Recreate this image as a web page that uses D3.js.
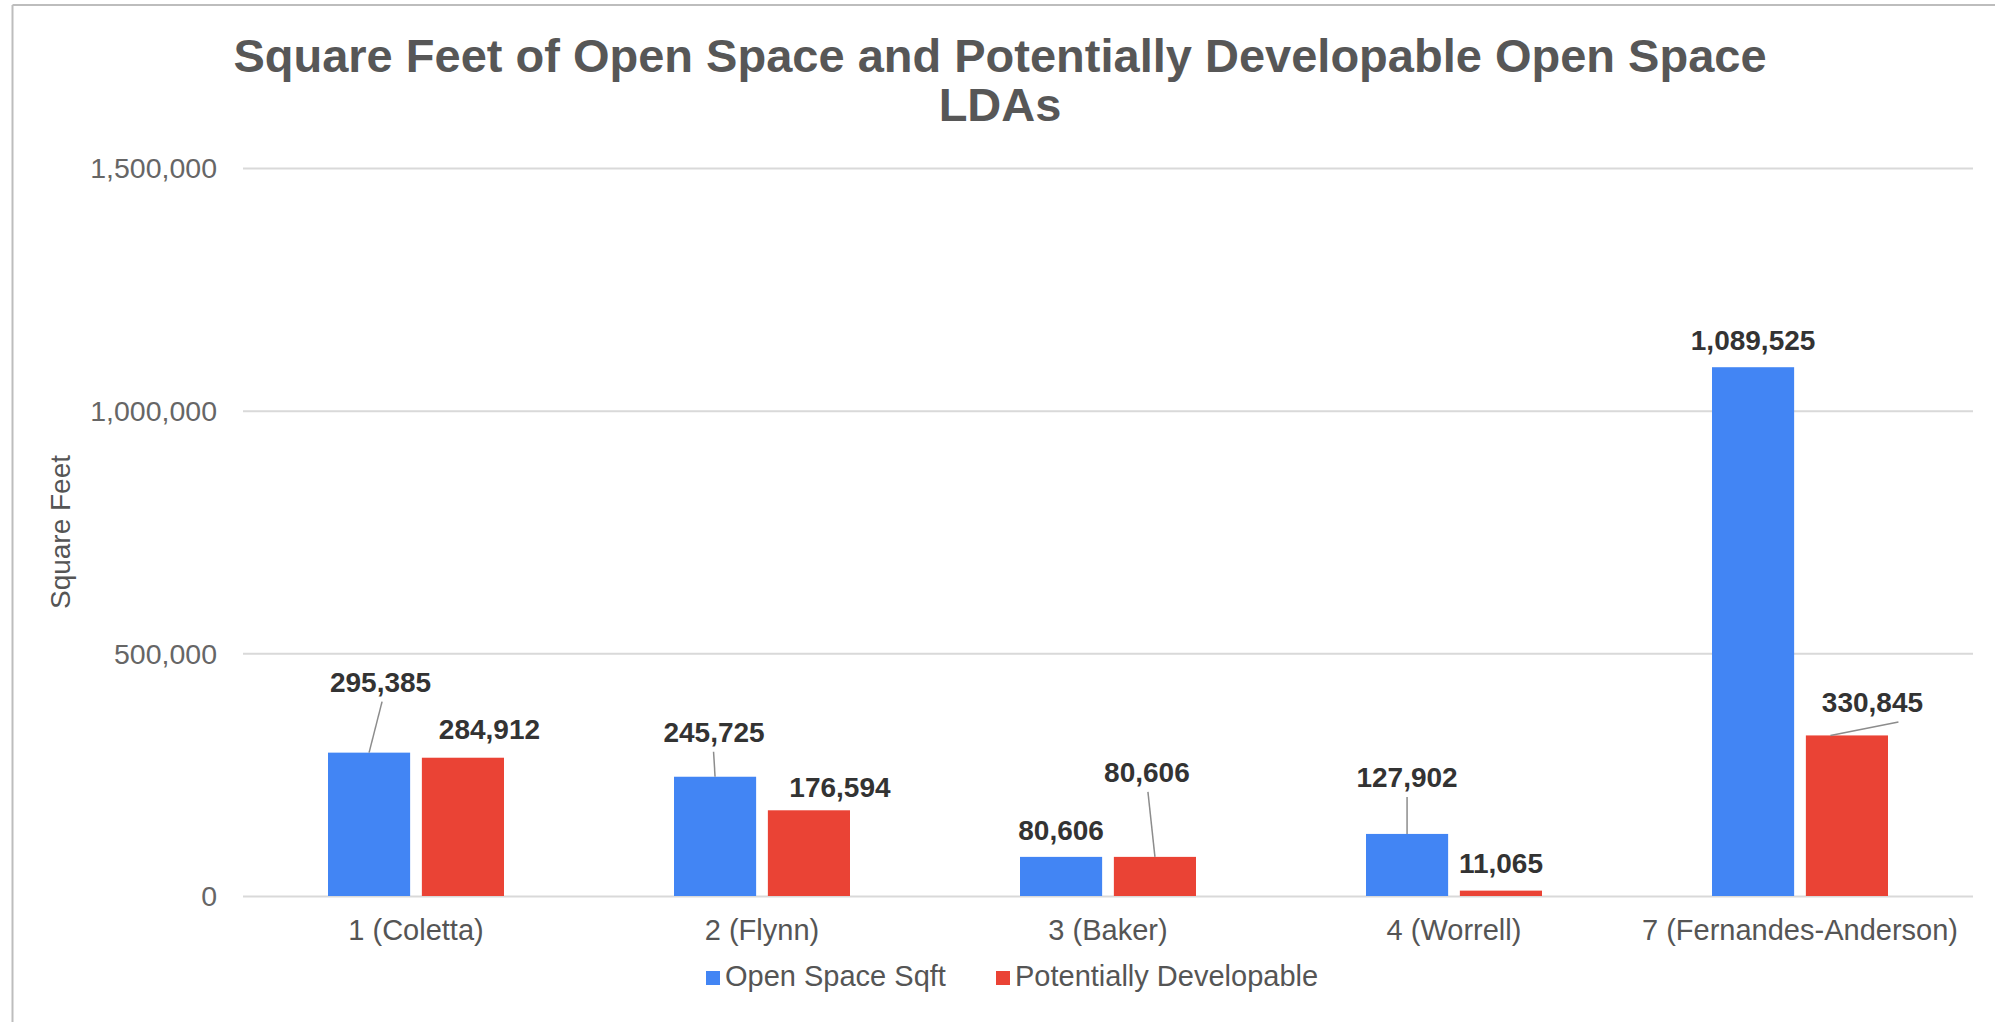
<!DOCTYPE html>
<html>
<head>
<meta charset="utf-8">
<script src="https://cdn.jsdelivr.net/npm/d3@7"></script>
<style>
  html, body { margin: 0; padding: 0; background: #fff; }
  svg { display: block; font-family: "Liberation Sans", Arial, Helvetica, sans-serif; }
</style>
</head>
<body>
<svg id="chart" width="1995" height="1022"></svg>
<script>
// ---- data ----
const categories = ["1 (Coletta)", "2 (Flynn)", "3 (Baker)", "4 (Worrell)", "7 (Fernandes-Anderson)"];
const seriesNames = ["Open Space Sqft", "Potentially Developable"];
const openSpace = [295385, 245725, 80606, 127902, 1089525];
const developable = [284912, 176594, 80606, 11065, 330845];
const yTicks = [0, 500000, 1000000, 1500000];
const titleLines = ["Square Feet of Open Space and Potentially Developable Open Space", "LDAs"];

// ---- layout ----
const W = 1995, H = 1022;
const plot = { left: 243, right: 1973, top: 168, bottom: 896 };
const colors = ["#4285F4", "#EA4335"];

// per-label nudges (dx, dy relative to the bar's top centre) and optional leader line
// leader = [offset along bar top, offset along label bottom]
const labelLayout = [
  [ { dx: 11.5, dy: -61, leader: [0, 1.5] }, { dx: 26.5, dy: -19, leader: null } ],
  [ { dx: -1, dy: -35, leader: [0, -0.5] }, { dx: 31, dy: -13.5, leader: null } ],
  [ { dx: 0, dy: -17, leader: null }, { dx: -8, dy: -75, leader: [0, 1] } ],
  [ { dx: 0, dy: -47, leader: [0, 0] }, { dx: 0, dy: -17.5, leader: null } ],
  [ { dx: 0, dy: -17, leader: null }, { dx: 25.5, dy: -23.5, leader: [-16.5, 26] } ]
];

const svg = d3.select("#chart");
svg.append("rect").attr("width", W).attr("height", H).attr("fill", "#fff");

// chart frame edges
svg.append("line").attr("x1", 12.5).attr("x2", 12.5).attr("y1", 5).attr("y2", H)
  .attr("stroke", "#bdbdbd").attr("stroke-width", 2);
svg.append("line").attr("x1", 12.5).attr("x2", W).attr("y1", 5).attr("y2", 5)
  .attr("stroke", "#bdbdbd").attr("stroke-width", 2);

// title
const title = svg.append("text")
  .attr("text-anchor", "middle")
  .attr("font-size", 47).attr("font-weight", "bold").attr("fill", "#575757");
titleLines.forEach((t, i) => {
  title.append("tspan").attr("x", 1000).attr("y", 72 + i * 49).text(t);
});

// scales
const x0 = d3.scaleBand().domain(categories).range([plot.left, plot.right]).paddingInner(0).paddingOuter(0);
const x1 = d3.scaleBand().domain(seriesNames).range([0, 176]).paddingInner(22 / 176 * 1.0).paddingOuter(0);
const y = d3.scaleLinear().domain([0, 1500000]).range([plot.bottom, plot.top]);
const groupOffset = (x0.bandwidth() - 176) / 2;

// gridlines + y tick labels
const yAxis = d3.axisLeft(y).tickValues(yTicks).tickFormat(d3.format(",")).tickSize(0).tickPadding(0);
const yg = svg.append("g").attr("transform", `translate(${plot.left},0)`).call(yAxis);
yg.select(".domain").remove();
yg.selectAll(".tick text")
  .attr("x", 217 - plot.left).attr("dy", "0.35em")
  .attr("font-size", 28.5).attr("fill", "#666").attr("font-family", "Liberation Sans, Arial, sans-serif");
yg.selectAll(".tick").append("line")
  .attr("x1", 0).attr("x2", plot.right - plot.left)
  .attr("stroke", "#d9d9d9").attr("stroke-width", 2);

// y axis title
svg.append("text")
  .attr("transform", `translate(70, ${(plot.top + plot.bottom) / 2}) rotate(-90)`)
  .attr("text-anchor", "middle")
  .attr("font-size", 28).attr("fill", "#555")
  .text("Square Feet");

// bars
const rows = categories.map((c, i) => ({ cat: c, i, vals: [openSpace[i], developable[i]] }));
const groups = svg.append("g").selectAll("g").data(rows).join("g")
  .attr("transform", d => `translate(${x0(d.cat) + groupOffset},0)`);

groups.selectAll("rect").data(d => d.vals.map((v, s) => ({ v, s, i: d.i }))).join("rect")
  .attr("x", d => x1(seriesNames[d.s]))
  .attr("y", d => y(d.v))
  .attr("width", x1.bandwidth())
  .attr("height", d => y(0) - y(d.v))
  .attr("fill", d => colors[d.s]);

// value labels and leader lines
const fmt = d3.format(",");
groups.each(function (d) {
  const g = d3.select(this);
  d.vals.forEach((v, s) => {
    const L = labelLayout[d.i][s];
    const bx = x1(seriesNames[s]) + x1.bandwidth() / 2;
    const by = y(v);
    const lx = bx + L.dx, ly = by + L.dy;
    if (L.leader) {
      g.append("line")
        .attr("x1", bx + L.leader[0]).attr("y1", by)
        .attr("x2", lx + L.leader[1]).attr("y2", ly + 10)
        .attr("stroke", "#8c8c8c").attr("stroke-width", 1.5);
    }
    g.append("text")
      .attr("x", lx).attr("y", ly)
      .attr("text-anchor", "middle")
      .attr("font-size", 28).attr("font-weight", "bold").attr("fill", "#333")
      .text(fmt(v));
  });
});

// x category labels
svg.append("g").selectAll("text").data(categories).join("text")
  .attr("x", d => x0(d) + x0.bandwidth() / 2)
  .attr("y", 940)
  .attr("text-anchor", "middle")
  .attr("font-size", 29).attr("fill", "#555")
  .text(d => d);

// legend
const legend = svg.append("g");
const legendItems = [
  { name: seriesNames[0], color: colors[0], x: 706 },
  { name: seriesNames[1], color: colors[1], x: 996 }
];
legendItems.forEach(it => {
  legend.append("rect").attr("x", it.x).attr("y", 971).attr("width", 14).attr("height", 14).attr("fill", it.color);
  legend.append("text").attr("x", it.x + 19).attr("y", 986)
    .attr("font-size", 29).attr("fill", "#555").text(it.name);
});
</script>
</body>
</html>
